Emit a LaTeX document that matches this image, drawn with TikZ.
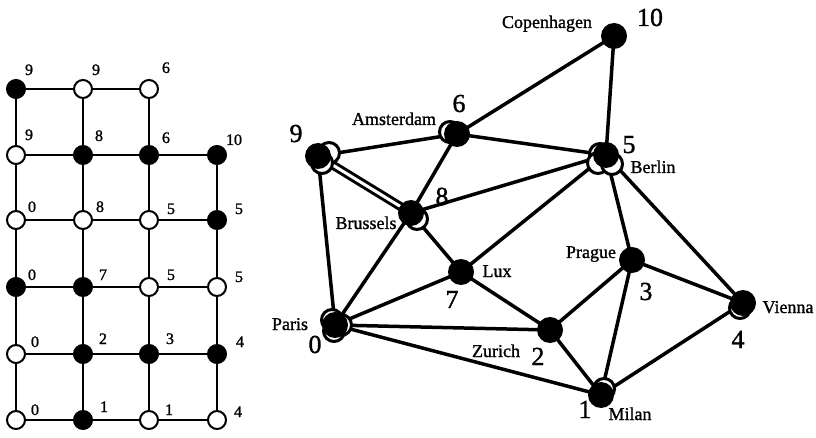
\documentclass[tikz,border=0pt]{standalone}
\usepackage{fontspec}
\setmainfont{Liberation Serif}[FakeBold=1.2]
\begin{document}
\begin{tikzpicture}[x=1pt,y=-1pt,
  gfill/.style={circle, draw=black, fill=black, line width=2pt, minimum size=18pt, inner sep=0pt},
  gopen/.style={circle, draw=black, fill=white, line width=2pt, minimum size=18pt, inner sep=0pt},
  glab/.style={font=\fontsize{16}{16}\selectfont, inner sep=0pt, anchor=base},
  gedge/.style={line width=2pt},
  cfill/.style={circle, fill=black, minimum size=26pt, inner sep=0pt},
  copen/.style={circle, draw=black, fill=white, line width=3pt, minimum size=21pt, inner sep=0pt},
  cedge/.style={line width=3.5pt},
  cdouble/.style={line width=3pt, double=white, double distance=3pt},
  cname/.style={font=\fontsize{18}{18}\selectfont, inner sep=0pt, anchor=base},
  cnum/.style={font=\fontsize{26}{26}\selectfont, inner sep=0pt, anchor=base}]
\useasboundingbox (0,0) rectangle (816,438);

% ---------------- left grid ----------------
% row 1
\node[gfill] (g11) at (16,89) {};
\node[gopen] (g12) at (83,89) {};
\node[gopen] (g13) at (149,89) {};
% row 2
\node[gopen] (g21) at (16,155) {};
\node[gfill] (g22) at (83,155) {};
\node[gfill] (g23) at (149,155) {};
\node[gfill] (g24) at (217,155) {};
% row 3
\node[gopen] (g31) at (16,220) {};
\node[gopen] (g32) at (83,220) {};
\node[gopen] (g33) at (149,220) {};
\node[gfill] (g34) at (217,220) {};
% row 4
\node[gfill] (g41) at (16,287) {};
\node[gfill] (g42) at (83,287) {};
\node[gopen] (g43) at (149,287) {};
\node[gopen] (g44) at (217,287) {};
% row 5
\node[gopen] (g51) at (16,354) {};
\node[gfill] (g52) at (83,354) {};
\node[gfill] (g53) at (149,354) {};
\node[gfill] (g54) at (217,354) {};
% row 6
\node[gopen] (g61) at (16,420) {};
\node[gfill] (g62) at (83,420) {};
\node[gopen] (g63) at (149,420) {};
\node[gopen] (g64) at (217,420) {};

% horizontal edges
\draw[gedge] (g11) -- (g12); \draw[gedge] (g12) -- (g13);
\draw[gedge] (g21) -- (g22); \draw[gedge] (g22) -- (g23); \draw[gedge] (g23) -- (g24);
\draw[gedge] (g31) -- (g32); \draw[gedge] (g32) -- (g33); \draw[gedge] (g33) -- (g34);
\draw[gedge] (g41) -- (g42); \draw[gedge] (g42) -- (g43); \draw[gedge] (g43) -- (g44);
\draw[gedge] (g51) -- (g52); \draw[gedge] (g52) -- (g53); \draw[gedge] (g53) -- (g54);
\draw[gedge] (g61) -- (g62); \draw[gedge] (g62) -- (g63); \draw[gedge] (g63) -- (g64);
% vertical edges
\draw[gedge] (g11) -- (g21); \draw[gedge] (g21) -- (g31); \draw[gedge] (g31) -- (g41); \draw[gedge] (g41) -- (g51); \draw[gedge] (g51) -- (g61);
\draw[gedge] (g12) -- (g22); \draw[gedge] (g22) -- (g32); \draw[gedge] (g32) -- (g42); \draw[gedge] (g42) -- (g52); \draw[gedge] (g52) -- (g62);
\draw[gedge] (g13) -- (g23); \draw[gedge] (g23) -- (g33); \draw[gedge] (g33) -- (g43); \draw[gedge] (g43) -- (g53); \draw[gedge] (g53) -- (g63);
\draw[gedge] (g24) -- (g34); \draw[gedge] (g34) -- (g44); \draw[gedge] (g44) -- (g54); \draw[gedge] (g54) -- (g64);

% grid labels
\node[glab] (l11) at (29,75) {9};
\node[glab] (l12) at (96,75) {9};
\node[glab] (l13) at (166,73) {6};
\node[glab] (l21) at (29,140) {9};
\node[glab] (l22) at (99,141) {8};
\node[glab] (l23) at (166,143) {6};
\node[glab] (l24) at (234,145) {10};
\node[glab] (l31) at (32,212) {0};
\node[glab] (l32) at (100,212) {8};
\node[glab] (l33) at (171,214) {5};
\node[glab] (l34) at (239,214) {5};
\node[glab] (l41) at (32,280) {0};
\node[glab] (l42) at (103,280) {7};
\node[glab] (l43) at (171,280) {5};
\node[glab] (l44) at (239,282) {5};
\node[glab] (l51) at (35,347) {0};
\node[glab] (l52) at (103,344) {2};
\node[glab] (l53) at (170,344) {3};
\node[glab] (l54) at (240,347) {4};
\node[glab] (l61) at (35,415) {0};
\node[glab] (l62) at (104,412) {1};
\node[glab] (l63) at (169,415) {1};
\node[glab] (l64) at (238,417) {4};

% ---------------- right graph ----------------
\coordinate (Cop) at (614,36);
\coordinate (Ams) at (457,134);
\coordinate (Nin) at (318,156);
\coordinate (Bru) at (411,213);
\coordinate (Ber) at (606,155);
\coordinate (Lux) at (461,272);
\coordinate (Par) at (335,325);
\coordinate (Zur) at (550,330);
\coordinate (Pra) at (632,260);
\coordinate (Vie) at (743,303);
\coordinate (Mil) at (601,395);

\draw[cedge] (Cop) -- (Ams);
\draw[cedge] (Cop) -- (Ber);
\draw[cedge] (Ams) -- (Nin);
\draw[cedge] (Ams) -- (Ber);
\draw[cedge] (Ams) -- (Bru);
\draw[cdouble] (Nin) -- (Bru);
\draw[cedge] (Nin) -- (Par);
\draw[cedge] (Bru) -- (Ber);
\draw[cedge] (Bru) -- (Lux);
\draw[cedge] (Bru) -- (Par);
\draw[cedge] (Ber) -- (Lux);
\draw[cedge] (Ber) -- (Pra);
\draw[cedge] (Ber) -- (Vie);
\draw[cedge] (Lux) -- (Par);
\draw[cedge] (Lux) -- (Zur);
\draw[cedge] (Par) -- (Zur);
\draw[cedge] (Par) -- (Mil);
\draw[cedge] (Zur) -- (Pra);
\draw[cedge] (Zur) -- (Mil);
\draw[cedge] (Pra) -- (Mil);
\draw[cedge] (Pra) -- (Vie);
\draw[cedge] (Vie) -- (Mil);

% open (white) circles behind the filled ones
\node[copen] (oAms) at (450,132) {};
\node[copen] (oNin1) at (329,153) {};
\node[copen] (oNin2) at (322,163) {};
\node[copen] (oBru) at (417,219) {};
\node[copen] (oBer1) at (600,154) {};
\node[copen] (oBer2) at (598,163) {};
\node[copen] (oBer3) at (612,164) {};
\node[copen] (oPar1) at (332,320) {};
\node[copen] (oPar2) at (341,325) {};
\node[copen] (oPar3) at (334,331) {};
\node[copen] (oMil) at (604,389) {};
\node[copen] (oVie) at (740,308) {};

% filled circles
\node[cfill] (nCop) at (Cop) {};
\node[cfill] (nAms) at (Ams) {};
\node[cfill] (nNin) at (Nin) {};
\node[cfill] (nBru) at (Bru) {};
\node[cfill] (nBer) at (Ber) {};
\node[cfill] (nLux) at (Lux) {};
\node[cfill] (nPar) at (Par) {};
\node[cfill] (nZur) at (Zur) {};
\node[cfill] (nPra) at (Pra) {};
\node[cfill] (nVie) at (Vie) {};
\node[cfill] (nMil) at (Mil) {};

% city names
\node[cname] (tCop) at (547,28) {Copenhagen};
\node[cname] (tAms) at (394,125) {Amsterdam};
\node[cname] (tBru) at (366,229) {Brussels};
\node[cname] (tBer) at (653,173) {Berlin};
\node[cname] (tLux) at (497,277) {Lux};
\node[cname] (tPar) at (290,330) {Paris};
\node[cname] (tZur) at (496,357) {Zurich};
\node[cname] (tPra) at (591,258) {Prague};
\node[cname] (tVie) at (788,313) {Vienna};
\node[cname] (tMil) at (630,420) {Milan};

% numbers
\node[cnum] (kCop) at (650,26) {10};
\node[cnum] (kAms) at (459,112) {6};
\node[cnum] (kNin) at (296,142) {9};
\node[cnum] (kBru) at (442,205) {8};
\node[cnum] (kBer) at (629,153) {5};
\node[cnum] (kLux) at (452,308) {7};
\node[cnum] (kPar) at (315,353) {0};
\node[cnum] (kZur) at (538,365) {2};
\node[cnum] (kPra) at (646,300) {3};
\node[cnum] (kVie) at (738,348) {4};
\node[cnum] (kMil) at (585,418) {1};
\end{tikzpicture}
\end{document}
